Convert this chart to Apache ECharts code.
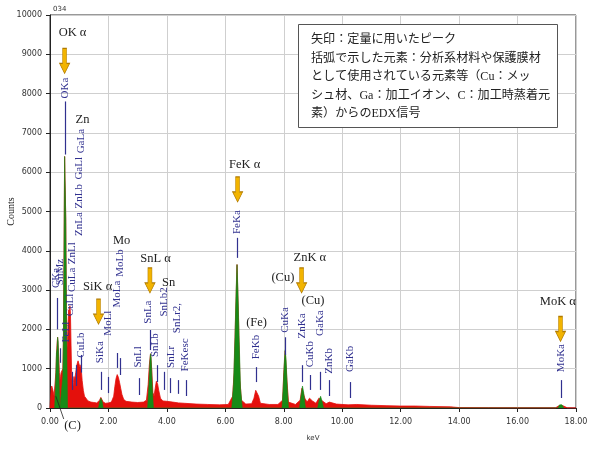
<!DOCTYPE html>
<html><head><meta charset="utf-8">
<script src="https://cdn.jsdelivr.net/npm/echarts@6/dist/echarts.min.js"></script>
<style>html,body{margin:0;padding:0;background:#fff}#c{width:593px;height:450px}</style>
</head><body><div id="c"></div>
<script>
// ---- data (keV, counts) ----
const spectrumTotal = [
[0,0],[0.04,500],[0.06,560],[0.08,520],[0.10,450],[0.12,380],[0.14,300],[0.16,350],[0.18,700],[0.20,900],
[0.22,1300],[0.24,1600],[0.26,1800],[0.28,1750],[0.30,1300],[0.32,900],[0.34,700],[0.36,800],[0.38,900],[0.40,950],
[0.42,850],[0.44,1000],[0.46,1800],[0.48,4000],[0.50,6400],[0.52,6400],[0.54,4800],[0.56,2600],[0.58,1500],[0.60,1700],
[0.62,2200],[0.64,2500],[0.66,2400],[0.68,2600],[0.70,2400],[0.72,1600],[0.74,900],[0.76,600],[0.78,500],[0.80,650],
[0.82,800],[0.84,700],[0.86,750],[0.88,900],[0.90,1000],[0.92,1100],[0.94,1150],[0.96,1200],[0.98,1250],[1.00,1200],
[1.02,1150],[1.04,1000],[1.06,1100],[1.08,900],[1.10,700],[1.14,450],[1.18,300],[1.22,250],[1.30,180],[1.40,150],
[1.50,140],[1.60,130],[1.66,150],[1.70,200],[1.74,270],[1.78,220],[1.82,150],[1.90,120],[2.00,130],[2.10,150],
[2.18,300],[2.22,550],[2.26,750],[2.30,850],[2.34,780],[2.38,650],[2.42,500],[2.46,350],[2.52,220],[2.60,170],
[2.80,150],[3.00,140],[3.20,150],[3.30,200],[3.36,600],[3.40,1100],[3.44,1380],[3.48,1000],[3.52,400],[3.56,300],
[3.60,500],[3.64,680],[3.68,620],[3.72,450],[3.78,250],[3.86,180],[3.92,200],[4.00,170],[4.20,150],[4.40,130],
[4.60,120],[5.00,100],[5.40,90],[5.80,80],[6.10,90],[6.25,300],[6.30,900],[6.35,2300],[6.40,3650],[6.45,2300],
[6.50,700],[6.55,200],[6.70,100],[6.90,110],[6.98,250],[7.04,450],[7.08,480],[7.14,300],[7.20,120],[7.50,90],
[7.80,90],[7.96,200],[8.00,900],[8.05,1450],[8.10,800],[8.16,150],[8.40,90],[8.56,200],[8.62,500],[8.66,550],
[8.72,250],[8.80,150],[8.88,250],[8.92,270],[8.98,180],[9.10,120],[9.20,250],[9.26,300],[9.32,180],[9.45,110],
[9.56,150],[9.62,130],[9.80,100],[10.2,80],[10.5,90],[11.0,70],[11.5,60],[12.0,50],[12.5,50],[13.0,40],
[13.7,30],[14.0,10],[15.0,8],[16.0,6],[17.3,5],[17.42,60],[17.48,100],[17.55,60],[17.7,5],[18.0,5]
];
const spectrumPeaks = [
[0.16,0],[0.20,800],[0.22,1400],[0.24,1500],[0.26,1800],[0.28,1700],[0.30,1000],[0.32,400],[0.34,0],
[0.40,0],[0.44,800],[0.46,1800],[0.48,4000],[0.50,6400],[0.52,6400],[0.54,4800],[0.56,2600],[0.58,1200],[0.60,0],
[1.66,0],[1.70,150],[1.74,250],[1.78,180],[1.82,0],
[3.34,0],[3.38,500],[3.42,1200],[3.44,1380],[3.46,1300],[3.50,500],[3.54,0],
[6.22,0],[6.28,600],[6.33,1800],[6.37,3000],[6.40,3650],[6.43,3000],[6.47,1800],[6.52,500],[6.58,0],
[7.94,0],[7.98,500],[8.02,1200],[8.05,1480],[8.08,1200],[8.12,500],[8.16,0],
[8.54,0],[8.60,350],[8.64,560],[8.68,400],[8.74,0],
[9.16,0],[9.22,220],[9.26,300],[9.30,200],[9.36,0],
[17.38,0],[17.44,80],[17.48,110],[17.52,80],[17.58,0]
];
// line identification labels: [text, keV, counts(center)]
const lineLabels = [
["OKa",0.50,8140],["GaLa",1.08,6790],["GaLl",1.01,6100],["ZnLb",0.98,5390],["ZnLa",1.01,4680],
["ZnLl",0.74,3940],["CuLa",0.75,3260],["CuLl",0.70,2620],["CKa",0.22,3310],["SnMz",0.36,3460],
["FeLl",0.55,1930],["CuLb",1.08,1600],["SiKa",1.71,1420],["MoLl",2.00,2160],["MoLa",2.29,2900],
["MoLb",2.41,3690],["SnLl",3.03,1300],["SnLa",3.37,2440],["SnLb",3.61,1600],["SnLb2",3.89,2700],
["SnLr",4.13,1300],["SnLr2,",4.35,2290],["FeKesc",4.64,1350],["FeKa",6.40,4730],["FeKb",7.07,1550],
["CuKa",8.03,2240],["ZnKa",8.63,2090],["CuKb",8.90,1370],["GaKa",9.25,2160],["ZnKb",9.55,1200],
["GaKb",10.27,1250],["MoKa",17.48,1270]
];
// tick marks: [keV, fromCounts, toCounts]
const lineTicks = [
[0.51,6450,7800],[0.25,2000,2800],[0.36,1150,1520],[0.77,460,920],[0.90,560,1090],[1.07,900,1350],
[1.76,460,920],[2.01,380,790],[2.29,1020,1400],[2.39,840,1270],[3.04,330,760],[3.44,1475,1985],
[3.66,660,1090],[3.90,460,920],[4.13,380,760],[4.38,360,710],[4.66,305,710],[6.40,3820,4330],
[7.06,660,1040],[8.05,1350,1800],[8.64,660,1090],[8.90,460,840],[9.25,460,920],[9.57,305,710],
[10.26,255,660],[17.48,255,710]
];
// element annotations: [text, keV, counts]
const elementLabels = [
["OK α",0.77,9540],["Zn",1.11,7330],["Mo",2.45,4250],["SiK α",1.63,3080],["SnL α",3.61,3790],
["Sn",4.06,3200],["FeK α",6.66,6180],["(Fe)",7.07,2160],["(Cu)",7.97,3310],["ZnK α",8.89,3820],
["(Cu)",9.00,2720],["MoK α",17.38,2700]
];
// carbon note below the axis: text, text position, leader from / to
const carbonNote = {text:"(C)", at:[0.77,-460], from:[0.20,300], to:[0.47,-280]};
// quantification arrows: [keV, centerCounts]
const arrows = [[0.50,8830],[1.66,2450],[3.42,3245],[6.42,5560],[8.61,3245],[17.47,2010]];
const noteLines = [
"矢印：定量に用いたピーク",
"括弧で示した元素：分析系材料や保護膜材",
"として使用されている元素等（Cu：メッ",
"シュ材、Ga：加工イオン、C：加工時蒸着元",
"素）からのEDX信号"
];

const chart = echarts.init(document.getElementById('c'), null, {renderer:'canvas'});
const serif = 'Liberation Serif';
const arrowPath = 'path://M3,0 L7,0 L7,15 L10,15 L5,25 L0,15 L3,15 Z';

const option = {
  animation:false,
  backgroundColor:'#fff',
  title:[
    {text:'034', left:48, top:1, textStyle:{fontSize:7, fontWeight:'normal', color:'#333', fontFamily:'DejaVu Sans'}},
    {text:noteLines.join('\n'), left:298, top:24, padding:[7,8,4,13],
     borderWidth:1, borderColor:'#555', backgroundColor:'#fff',
     textStyle:{fontSize:12.1, lineHeight:18.5, fontWeight:'normal', color:'#222',
       fontFamily:"'Liberation Serif','Noto Sans CJK JP'"}}
  ],
  grid:{left:50, right:17, top:15, bottom:42, containLabel:false, outerBoundsMode:'none',
    show:true, borderColor:'#333', borderWidth:1},
  xAxis:{type:'value', min:0, max:18, interval:2,
    name:'keV', nameLocation:'middle', nameGap:27, nameMoveOverlap:false,
    nameTextStyle:{fontSize:7, color:'#333', fontFamily:'DejaVu Sans'},
    axisLine:{lineStyle:{color:'#222'}},
    axisTick:{show:true, length:4, lineStyle:{color:'#222'}},
    axisLabel:{fontSize:8, color:'#333', margin:10, fontFamily:'DejaVu Sans', formatter:v=>v.toFixed(2)},
    splitLine:{show:true, lineStyle:{color:'#cfcfcf', width:1}}},
  yAxis:{type:'value', min:0, max:10000, interval:1000,
    name:'Counts', nameLocation:'middle', nameGap:34, nameRotate:90, nameMoveOverlap:false,
    nameTextStyle:{fontSize:10, color:'#222', fontFamily:serif},
    axisLine:{show:true, lineStyle:{color:'#222'}},
    axisTick:{show:true, length:4, lineStyle:{color:'#222'}},
    axisLabel:{fontSize:8, color:'#333', margin:8, fontFamily:'DejaVu Sans', formatter:v=>String(v)},
    splitLine:{show:true, lineStyle:{color:'#cfcfcf', width:1}}},
  series:[
    {type:'line', data:spectrumTotal, showSymbol:false, symbol:'none', clip:false, z:2,
     lineStyle:{color:'#e4100c', width:0.8}, areaStyle:{color:'#e4100c', opacity:1}},
    {type:'line', data:spectrumPeaks, showSymbol:false, symbol:'none', z:3,
     lineStyle:{color:'#178a17', width:0.6}, areaStyle:{color:'#178a17', opacity:1}},
    {type:'line', data:[], z:5, clip:false, silent:true,
     markLine:{silent:true, symbol:['none','none'], animation:false, label:{show:false},
       lineStyle:{color:'#30308f', width:1.2, type:'solid'},
       data: lineTicks.map(t=>[{coord:[t[0],t[1]]},{coord:[t[0],t[2]]}])},
     markPoint:{silent:true, animation:false,
       data: lineLabels.map(l=>({name:l[0], coord:[l[1],l[2]], symbol:'rect', symbolSize:1,
          itemStyle:{color:'rgba(0,0,0,0)'},
          label:{show:true, position:'inside', rotate:90, formatter:l[0], fontSize:11,
            fontFamily:serif, color:'#30308f'}}))
        .concat(elementLabels.map(l=>({name:l[0], coord:[l[1],l[2]], symbol:'rect', symbolSize:1,
          itemStyle:{color:'rgba(0,0,0,0)'},
          label:{show:true, position:'inside', formatter:l[0], fontSize:12.5, fontFamily:serif, color:'#222'}})))
        .concat(arrows.map(a=>({name:'', coord:[a[0],a[1]], symbol:arrowPath, symbolSize:[10,25],
          symbolKeepAspect:false,
          itemStyle:{color:'#f2b400', borderColor:'#b07a00', borderWidth:0.8},
          label:{show:false}})))
     }}
  ]
};
chart.setOption(option);
// the "(C)" note lies below the axis range, so place it through the chart's own scale conversion
const pAt = chart.convertToPixel({gridIndex:0}, carbonNote.at);
const pFrom = chart.convertToPixel({gridIndex:0}, carbonNote.from);
const pTo = chart.convertToPixel({gridIndex:0}, carbonNote.to);
chart.setOption({graphic:[
  {type:'line', z:10, shape:{x1:pFrom[0], y1:pFrom[1], x2:pTo[0], y2:pTo[1]}, style:{stroke:'#222', lineWidth:0.8}},
  {type:'text', z:10, x:pAt[0], y:pAt[1], style:{text:carbonNote.text, fill:'#222', font:'12.5px "Liberation Serif"',
    align:'center', verticalAlign:'middle'}}
]});
</script></body></html>
